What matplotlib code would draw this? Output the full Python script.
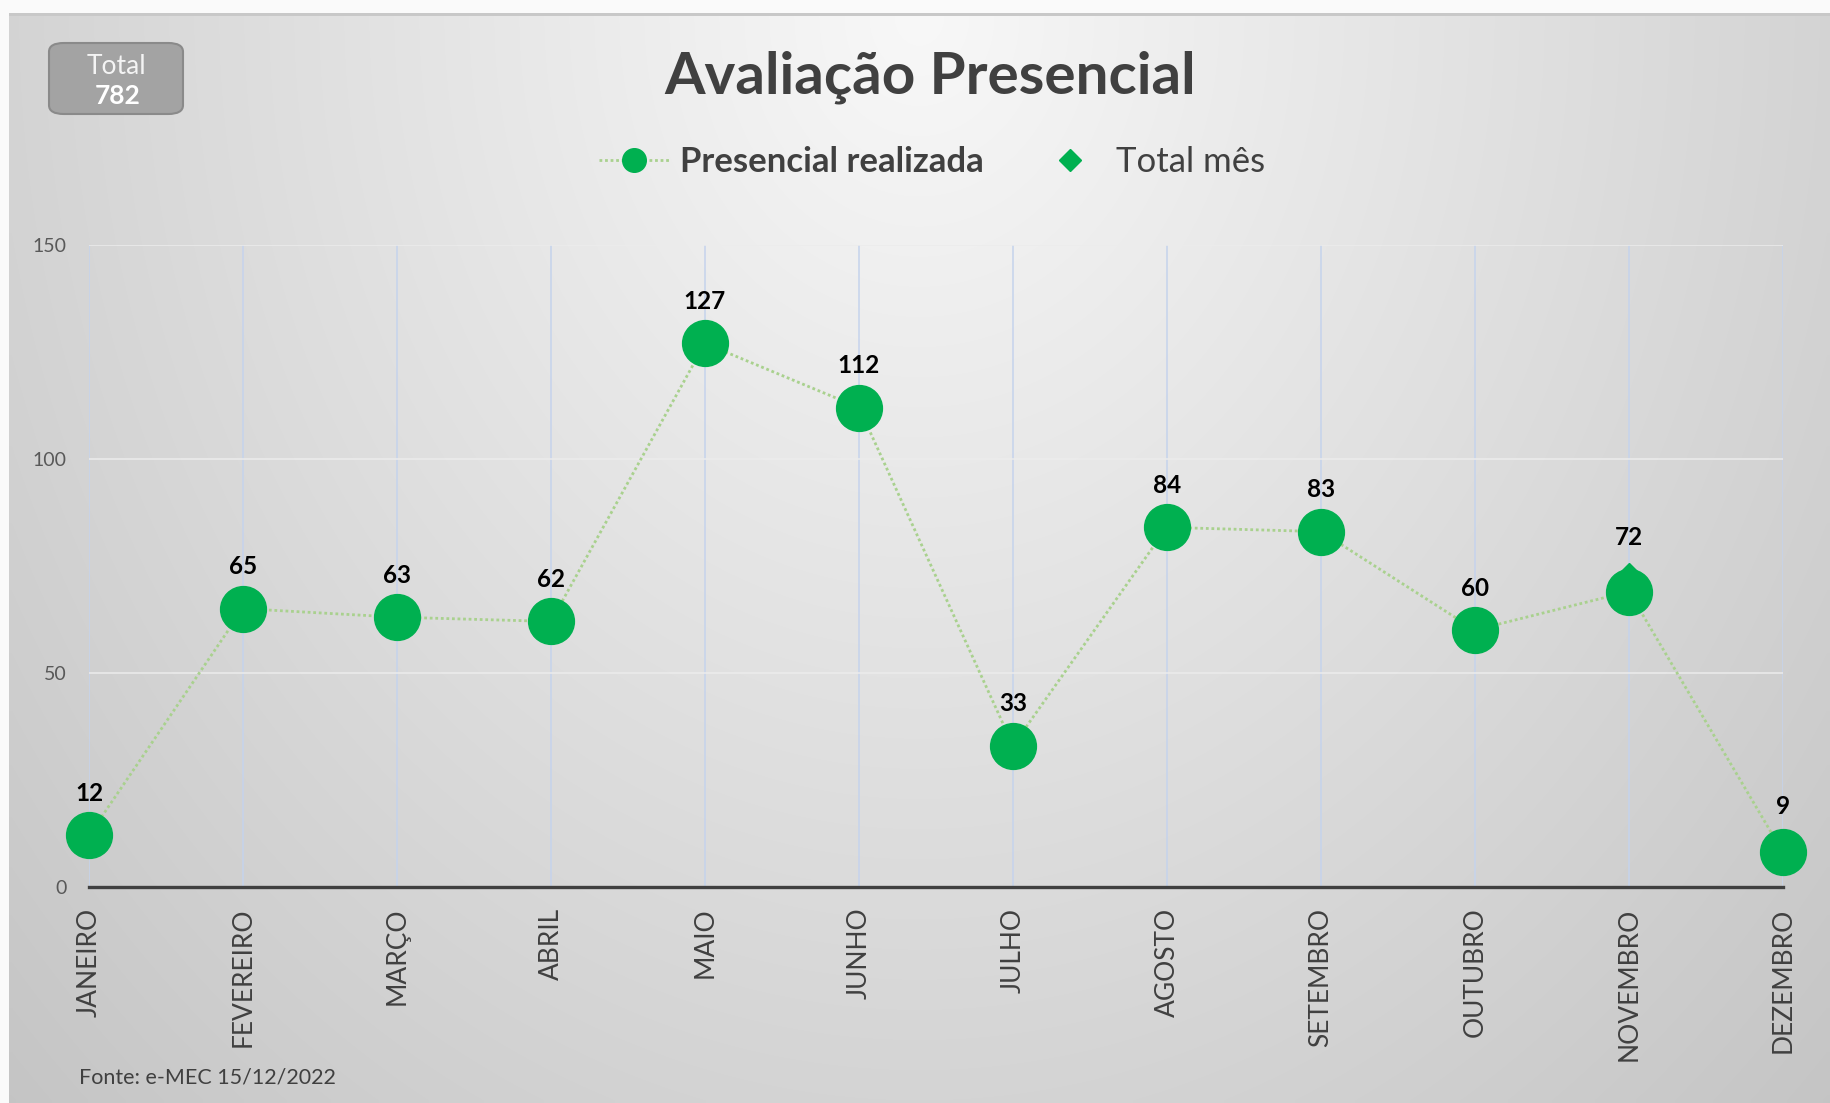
"""Avaliação Presencial - recreation of the Excel line chart."""

import matplotlib
matplotlib.use('Agg')
import matplotlib.pyplot as plt
from matplotlib.lines import Line2D
from matplotlib.patches import FancyBboxPatch, Rectangle
import numpy as np

plt.rcParams['font.family'] = ['Lato', 'DejaVu Sans']

# ---- data ----
months = ['JANEIRO', 'FEVEREIRO', 'MARÇO', 'ABRIL', 'MAIO', 'JUNHO',
          'JULHO', 'AGOSTO', 'SETEMBRO', 'OUTUBRO', 'NOVEMBRO', 'DEZEMBRO']
presencial = [12, 65, 63, 62, 127, 112, 33, 84, 83, 60, 69, 8]
total_mes = [12, 65, 63, 62, 127, 112, 33, 84, 83, 60, 72, 9]
total_geral = 782
y_ticks = [0, 50, 100, 150]

GREEN = '#00b050'
DOT_LINE = '#a9d18e'
TEXT = '#404040'
VGRID = '#c5d3ec'

W, H = 1830, 1103
fig = plt.figure(figsize=(W / 100, H / 100), dpi=100, facecolor='#fafafa')

# ---- background gradient (Excel style) ----
bg = fig.add_axes([0, 0, 1, 1], zorder=-5)
bg.set_xlim(0, W)
bg.set_ylim(H, 0)
bg.axis('off')
gx, gy = np.meshgrid(np.linspace(0, 1, 300), np.linspace(0, 1, 200))
d = np.sqrt(((gx - 0.5) / 0.62) ** 2 + (gy / 1.25) ** 2)
gray = np.clip(248 - 45 * d, 0, 255) / 255
img = np.dstack([gray, gray, gray])
bg.imshow(img, extent=[9, W, H, 13], aspect='auto', interpolation='bilinear')
bg.add_patch(Rectangle((9, 13), W - 9, 3, color='#c8c8c8', lw=0))

# ---- main axes ----
ax = fig.add_axes([89 / W, 1 - 886.7 / H, (1783 - 89) / W, (886.7 - 245) / H])
ax.set_facecolor('none')
x = np.arange(len(months))

ax.plot(x, total_mes, linestyle='none', marker='D', markersize=16,
        color=GREEN, clip_on=False, zorder=3)
ax.plot(x, presencial, linestyle=(0, (1, 1)), color=DOT_LINE, linewidth=2,
        marker='o', markersize=33, markerfacecolor=GREEN,
        markeredgecolor=GREEN, clip_on=False, zorder=4)

for xi, v in zip(x, total_mes):
    ax.annotate(str(v), (xi, v), xytext=(0, 30), textcoords='offset points',
                ha='center', va='center', fontsize=17.5, fontweight='bold',
                color='black', annotation_clip=False, zorder=5)

ax.set_xlim(0, len(months) - 1)
ax.set_ylim(0, 150)
ax.set_xticks(x)
ax.set_xticklabels(months, rotation=90, va='top', ha='center')
ax.set_xticks(x[::2], minor=True)
ax.set_yticks(y_ticks)
ax.tick_params(axis='x', which='major', length=0, pad=15, labelsize=19,
               labelcolor=TEXT)
ax.tick_params(axis='x', which='minor', length=6, width=2.2, color=TEXT,
               direction='out')
ax.tick_params(axis='y', length=0, pad=16, labelsize=14, labelcolor='#595959')

ax.grid(axis='x', which='major', color=VGRID, linewidth=1.1, zorder=0)
ax.grid(axis='y', color='#ececec', linewidth=1.1, zorder=0)
ax.set_axisbelow(True)
for side in ['top', 'right', 'left']:
    ax.spines[side].set_visible(False)
ax.spines['bottom'].set_color(TEXT)
ax.spines['bottom'].set_linewidth(2.4)

# ---- title, legend ----
fig.text(930 / W, 1 - 93 / H, 'Avaliação Presencial', fontsize=42,
         fontweight='bold', color=TEXT, ha='center', va='baseline')

handles = [
    Line2D([], [], linestyle=(0, (1, 1)), color=DOT_LINE, linewidth=2,
           marker='o', markersize=17, markerfacecolor=GREEN,
           markeredgecolor=GREEN),
    Line2D([], [], linestyle='none', marker='D', markersize=11, color=GREEN),
]
leg = fig.legend(handles, ['Presencial realizada', 'Total mês'], ncol=2,
                 loc='center', bbox_to_anchor=(932 / W, 1 - 162 / H),
                 frameon=False, fontsize=25, handlelength=2.05,
                 handletextpad=0.3, columnspacing=1.45, labelcolor=TEXT)
leg.get_texts()[0].set_fontweight('bold')

# ---- total box ----
box = FancyBboxPatch((49 / W, 1 - 114 / H), 134 / W, 71 / H,
                     boxstyle='round,pad=0,rounding_size=0.008',
                     transform=fig.transFigure, facecolor='#a3a3a3',
                     edgecolor='#8a8a8a', linewidth=1.5)
fig.patches.append(box)
fig.text(116 / W, 1 - 67 / H, 'Total', fontsize=19, color='#f4f4f4',
         ha='center', va='center')
fig.text(118 / W, 1 - 96 / H, str(total_geral), fontsize=19,
         fontweight='bold', color='white', ha='center', va='center')

# ---- source ----
fig.text(79 / W, 1 - 1077 / H, 'Fonte: e-MEC 15/12/2022', fontsize=15.5,
         color=TEXT, ha='left', va='center')

fig.savefig('out.png', dpi=100, facecolor=fig.get_facecolor())
